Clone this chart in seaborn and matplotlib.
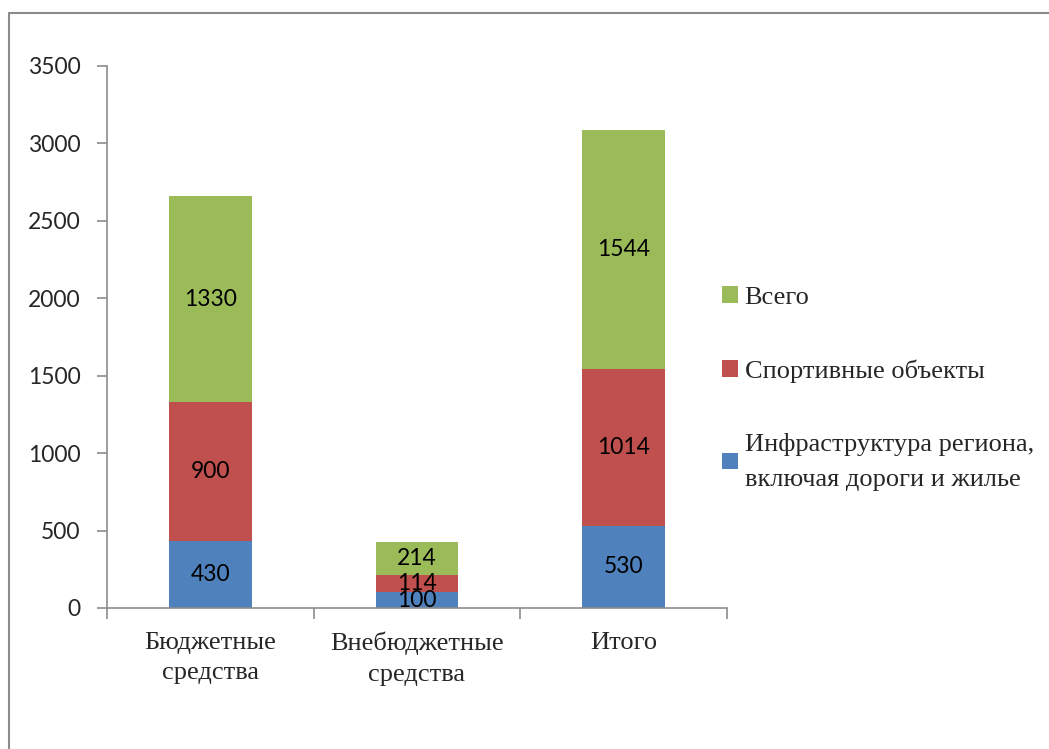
import numpy as np
import pandas as pd
import matplotlib
matplotlib.use("Agg")
import matplotlib.pyplot as plt
import seaborn as sns
from matplotlib.lines import Line2D

categories = ["Бюджетные\nсредства", "Внебюджетные\nсредства", "Итого"]
infra = [430, 100, 530]
sport = [900, 114, 1014]
total = [1330, 214, 1544]
series_names = ["Инфраструктура региона,\nвключая дороги и жилье", "Спортивные объекты", "Всего"]
colors = ["#4F81BD", "#C0504D", "#9BBB59"]

sns.set_style("white")
plt.rcParams['font.family'] = ['Liberation Serif', 'DejaVu Serif']

fig = plt.figure(figsize=(10.49, 7.49), dpi=100)
ax = fig.add_axes([0.102, 0.1883, 0.591, 0.7236])

df = pd.DataFrame({"cat": categories, "infra": infra, "sport": sport, "total": total})

bottom = np.zeros(len(categories))
for col, name, c in zip(["infra", "sport", "total"], series_names, colors):
    sns.barplot(data=df, x="cat", y=col, color=c, width=0.4, bottom=bottom,
                ax=ax, saturation=1, label=name, linewidth=0)
    bottom = bottom + df[col].values

for cont in ax.containers:
    ax.bar_label(cont, label_type="center", fontsize=16.5, family="Lato", color="black")

ax.set_ylim(0, 3500)
ax.set_xlim(-0.5, 2.5)
ax.set_yticks(range(0, 3501, 500))
ax.set_xlabel("")
ax.set_ylabel("")
ax.tick_params(axis="y", labelsize=16.5, length=7, width=1.2, color="#8c8c8c", direction="out", left=True, pad=12)
for lbl in ax.get_yticklabels():
    lbl.set_family("Lato")
ax.set_xticks([0, 1, 2])
ax.set_xticklabels(categories, fontsize=19, linespacing=1.5)
ax.tick_params(axis="x", length=0, pad=17)
ax.set_xticks([-0.5, 0.5, 1.5, 2.5], minor=True)
ax.tick_params(axis="x", which="minor", length=8, width=1.2, color="#8c8c8c", direction="out", bottom=True)

for s in ["top", "right"]:
    ax.spines[s].set_visible(False)
for s in ["left", "bottom"]:
    ax.spines[s].set_color("#8c8c8c")
    ax.spines[s].set_linewidth(1.2)

handles, labels = ax.get_legend_handles_labels()
leg = ax.legend(handles[::-1], labels[::-1], loc="center left", bbox_to_anchor=(0.971, 0.405),
                frameon=False, fontsize=19, handlelength=0.6, handleheight=0.6, borderpad=0,
                handletextpad=0.25, labelspacing=1.9)
for t in leg.get_texts():
    t.set_linespacing(1.75)

# outer chart border (top and left visible)
fig.add_artist(Line2D([0.0086, 0.0086], [0, 0.9826], color="#8c8c8c", lw=1.5, transform=fig.transFigure))
fig.add_artist(Line2D([0.0086, 1.0], [0.9826, 0.9826], color="#8c8c8c", lw=1.5, transform=fig.transFigure))

fig.savefig("out.png", dpi=100)
